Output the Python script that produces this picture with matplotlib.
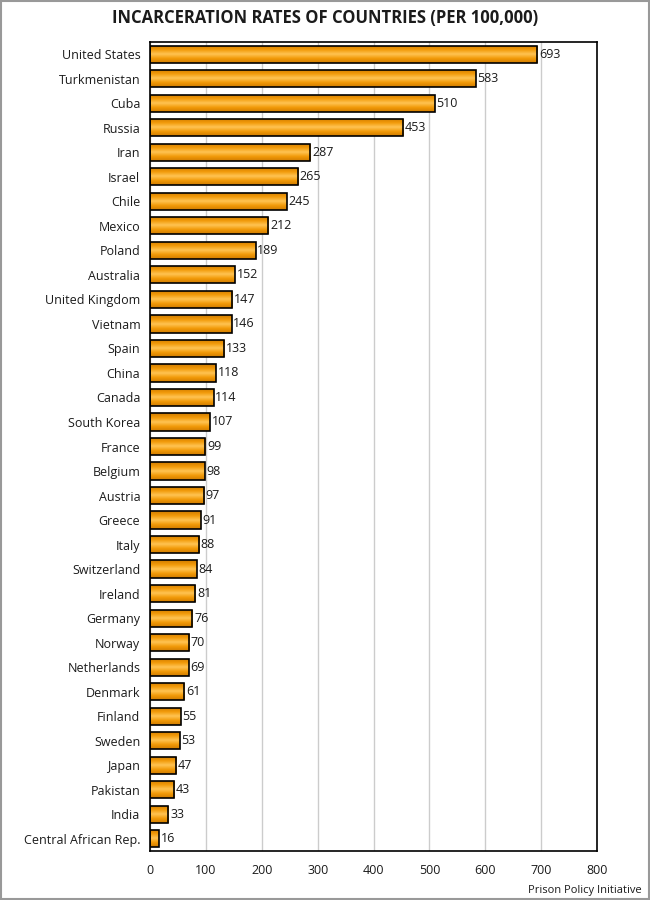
"""Incarceration rates of countries, horizontal bar chart."""

import matplotlib.pyplot as plt
import numpy as np
from matplotlib.colors import LinearSegmentedColormap
from matplotlib.patches import Rectangle

plt.rcParams["font.family"] = ["Open Sans", "DejaVu Sans"]

countries = [
    "United States", "Turkmenistan", "Cuba", "Russia", "Iran", "Israel", "Chile",
    "Mexico", "Poland", "Australia", "United Kingdom", "Vietnam", "Spain", "China",
    "Canada", "South Korea", "France", "Belgium", "Austria", "Greece", "Italy",
    "Switzerland", "Ireland", "Germany", "Norway", "Netherlands", "Denmark",
    "Finland", "Sweden", "Japan", "Pakistan", "India", "Central African Rep.",
]
rates = [
    693, 583, 510, 453, 287, 265, 245, 212, 189, 152, 147, 146, 133, 118,
    114, 107, 99, 98, 97, 91, 88, 84, 81, 76, 70, 69, 61, 55, 53, 47, 43, 33, 16,
]
x_ticks = [0, 100, 200, 300, 400, 500, 600, 700, 800]

TEXT = "#1b1b1b"
GRID = "#cccccc"

fig = plt.figure(figsize=(6.5, 9), dpi=100)
fig.patch.set_facecolor("white")
ax = fig.add_axes([150 / 650, 1 - 851 / 900, 447 / 650, 809 / 900])

positions = np.arange(len(countries))
bars = ax.barh(positions, rates, height=0.7, color="none", edgecolor="black",
               linewidth=1.2, zorder=3)

# vertical shading: dark orange at the edges, pale in the middle
grad_cmap = LinearSegmentedColormap.from_list(
    "bar", ["#d07c00", "#f29a08", "#ffc453", "#f29a08", "#d07c00"])
gradient = np.linspace(0, 1, 64).reshape(-1, 1)
for bar, rate in zip(bars, rates):
    x0, y0 = bar.get_x(), bar.get_y()
    w, h = bar.get_width(), bar.get_height()
    im = ax.imshow(gradient, cmap=grad_cmap, aspect="auto",
                   extent=(x0, x0 + w, y0 + h, y0), zorder=2,
                   interpolation="bilinear")
    im.set_clip_path(Rectangle((x0, y0), w, h, transform=ax.transData))
    ax.text(w + 3, y0 + h / 2, str(rate),
            va="center", ha="left", fontsize=9, color=TEXT, zorder=4)

ax.set_xlim(0, 800)
ax.set_ylim(len(countries) - 0.5, -0.5)
ax.set_xticks(x_ticks)
ax.set_yticks(positions, labels=countries)
ax.tick_params(axis="both", length=0, labelsize=9, colors=TEXT)
ax.tick_params(axis="x", pad=9)
ax.tick_params(axis="y", pad=7)
ax.xaxis.grid(True, color=GRID, linewidth=1)
ax.set_axisbelow(True)
for spine in ax.spines.values():
    spine.set_color("black")
    spine.set_linewidth(1.2)

fig.text(0.5, 1 - 18 / 900, "INCARCERATION RATES OF COUNTRIES (PER 100,000)",
         ha="center", va="center", fontsize=12, fontweight="bold", color=TEXT)
fig.text(1 - 8 / 650, 1 - 891 / 900, "Prison Policy Initiative",
         ha="right", va="center", fontsize=8, color=TEXT)

fig.add_artist(Rectangle((0.001, 0.001), 0.998, 0.998, transform=fig.transFigure,
                         fill=False, edgecolor="#999999", linewidth=1.5))

fig.savefig("out.png", dpi=100)
